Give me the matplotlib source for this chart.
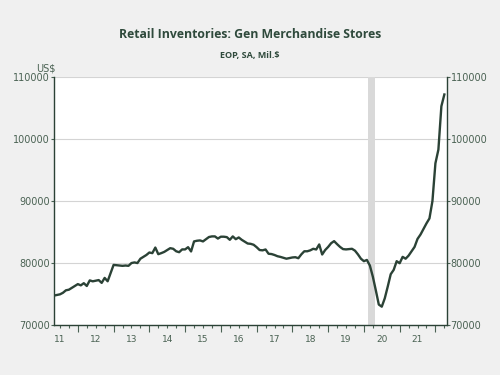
import numpy as np
import pandas as pd
from matplotlib import pyplot as plt

# Monthly inventories, May 2011 .. Apr 2022 (Mil. US$)
start_month = '2011-05'
inventories = [
    74750, 74850, 74950, 75200, 75600, 75700, 76000, 76300, 76600, 76400,
    76750, 76300, 77200, 77050, 77150, 77250, 76800, 77600, 77060, 78400,
    79700, 79650, 79600, 79550, 79600, 79550, 80000, 80100, 80000, 80700,
    81000, 81300, 81700, 81600, 82500, 81430, 81600, 81800, 82100, 82400,
    82300, 81900, 81750, 82200, 82200, 82560, 81870, 83490, 83600, 83650,
    83490, 83850, 84200, 84300, 84300, 83950, 84250, 84250, 84180, 83750,
    84300, 83850, 84130, 83750, 83450, 83150, 83100, 82950, 82560, 82100,
    82050, 82190, 81500, 81450, 81300, 81100, 80990, 80850, 80700, 80800,
    80900, 80940, 80780, 81400, 81900, 81900, 82050, 82300, 82190, 83000,
    81380, 82100, 82600, 83200, 83535, 83050, 82600, 82250, 82200, 82250,
    82300, 82000, 81400, 80700, 80300, 80500, 79600, 77800, 75600, 73300,
    72960, 74300, 76200, 78200, 78900, 80300, 79970, 81000, 80700, 81200,
    81900, 82600, 83900, 84600, 85500, 86400, 87200, 90000, 96100, 98300,
    105300, 107200,
]
recession = ('2020-02', '2020-04')
year_labels = ['11', '12', '13', '14', '15', '16', '17', '18', '19', '20', '21']
y_ticks = [70000, 80000, 90000, 100000, 110000]

dates = pd.date_range(start_month, periods=len(inventories), freq='MS')
t = dates.year + (dates.month - 1) / 12.


def dec_year(s):
    d = pd.Timestamp(s)
    return d.year + (d.month - 1) / 12.


line_col = '#2b4236'
text_col = '#4a6253'

fig = plt.figure(figsize=(5, 3.75), dpi=100, facecolor='#f0f0f0')
ax = fig.add_axes([0.108, 0.1333, 0.785, 0.661])
ax.set_facecolor('white')

ax.axvspan(dec_year(recession[0]) + 0.04, dec_year(recession[1]) + 0.05,
           color='#d9d9d9', lw=0, zorder=1)
ax.plot(t, inventories, color=line_col, lw=1.7, zorder=3)

ax.set_ylim(70000, 110000)
ax.set_xlim(t[0], t[-1] + 0.06)
ax.set_yticks(y_ticks)
ax.yaxis.grid(True, color='#d4d4d4', lw=0.8)
ax.set_axisbelow(True)

ax.set_xticks(np.arange(2012, 2023))
ax.set_xticks(np.arange(2011.5, 2022.5, 0.25), minor=True)
ax.set_xticklabels([])
for i, lab in enumerate(year_labels):
    ax.text(2011.5 + i, -0.04, lab, transform=ax.get_xaxis_transform(),
            ha='center', va='top', fontsize=6.5, color=text_col)

ax.tick_params(axis='x', which='major', length=5, width=0.8, color=text_col)
ax.tick_params(axis='x', which='minor', length=2.5, width=0.8, color=text_col)
ax.tick_params(axis='y', length=2, width=0.8, color=text_col, labelsize=7,
               labelcolor=text_col, right=True, labelright=True, pad=1)

for side in ['left', 'right', 'bottom']:
    ax.spines[side].set_color(line_col)
    ax.spines[side].set_linewidth(1.0)
ax.spines['top'].set_visible(False)

fig.text(0.5, 0.909, 'Retail Inventories: Gen Merchandise Stores', ha='center',
         va='center', fontsize=8.8, fontweight='bold', color='#2f4a3c',
         family='Open Sans')
fig.text(0.5, 0.853, 'EOP, SA, Mil.$', ha='center', va='center', fontsize=6.5,
         fontweight='bold', color='#2f4a3c', family='Open Sans')
fig.text(0.092, 0.818, 'US$', ha='center', va='center', fontsize=7,
         color=text_col)

plt.savefig('out.png', dpi=100, facecolor=fig.get_facecolor())
